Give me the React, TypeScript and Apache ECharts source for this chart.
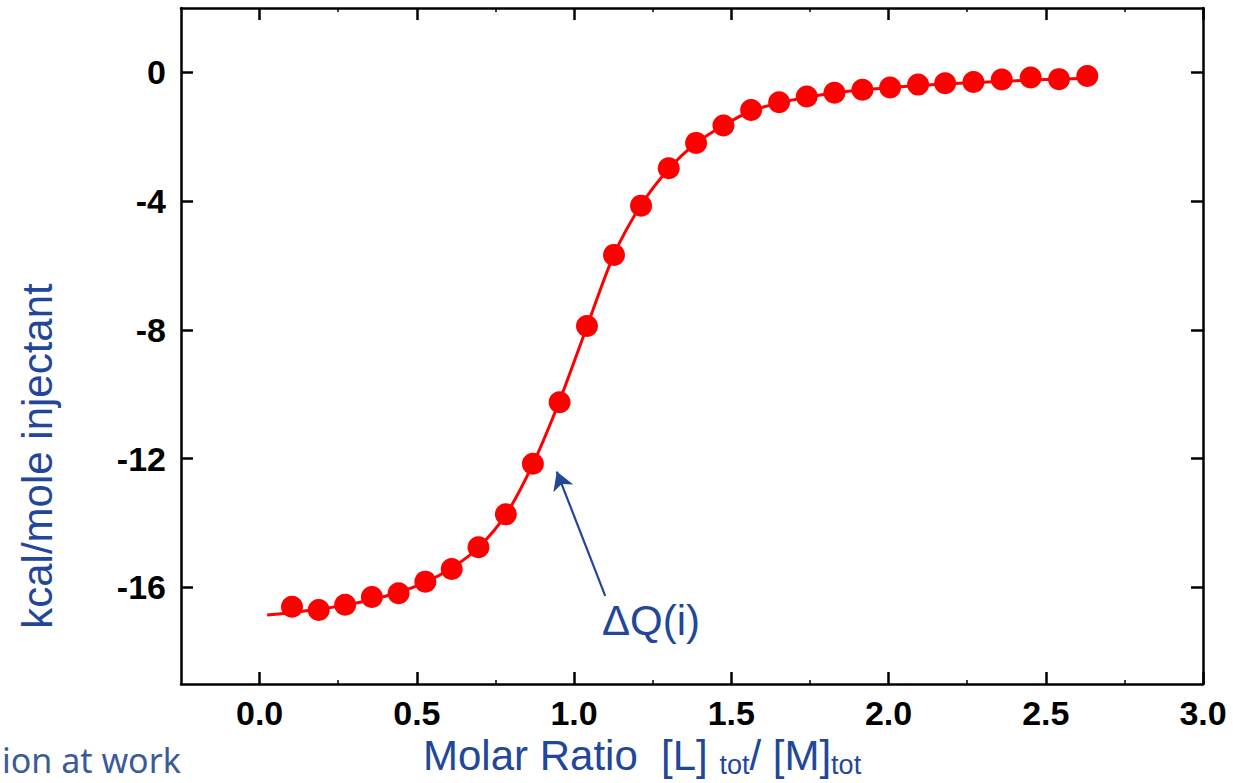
import React, { useEffect, useRef } from "react";
import * as echarts from "echarts";

// Measured injection points: molar ratio vs heat per mole of injectant
const ratioX = [0.103, 0.188, 0.272, 0.357, 0.442, 0.527, 0.611, 0.696, 0.783, 0.869, 0.954, 1.041, 1.127, 1.213, 1.301, 1.388, 1.475, 1.563, 1.652, 1.74, 1.828, 1.917, 2.005, 2.094, 2.18, 2.27, 2.36, 2.452, 2.542, 2.632];
const heatY = [-16.6, -16.7, -16.54, -16.3, -16.18, -15.82, -15.43, -14.75, -13.73, -12.16, -10.25, -7.88, -5.67, -4.14, -2.98, -2.19, -1.65, -1.17, -0.93, -0.75, -0.63, -0.54, -0.47, -0.38, -0.34, -0.3, -0.22, -0.16, -0.21, -0.11];

// Fitted curve
const fitX = [0.024, 0.103, 0.188, 0.272, 0.357, 0.442, 0.527, 0.611, 0.696, 0.783, 0.869, 0.954, 1.041, 1.127, 1.213, 1.301, 1.388, 1.475, 1.563, 1.652, 1.74, 1.828, 1.917, 2.005, 2.094, 2.18, 2.27, 2.36, 2.452, 2.542, 2.632];
const fitY = [-16.86, -16.78, -16.68, -16.55, -16.38, -16.15, -15.84, -15.4, -14.76, -13.74, -12.17, -10.2, -7.9, -5.66, -4.12, -3.0, -2.2, -1.65, -1.2, -0.95, -0.77, -0.64, -0.54, -0.47, -0.41, -0.36, -0.32, -0.28, -0.24, -0.21, -0.18];

// Tick labels
const xTicks = [0, 0.5, 1.0, 1.5, 2.0, 2.5, 3.0];
const xMinorTicks = [0.25, 0.75, 1.25, 1.75, 2.25, 2.75];
const yTicks = [-16, -12, -8, -4, 0];

// Annotation arrow (data coordinates): tail -> head
const arrowTail = [1.099, -16.26];
const arrowHead = [0.945, -12.4];

const BLUE = "#22479a";
const FONT = "'Liberation Sans', Arial, Helvetica, sans-serif";

export default function App() {
  const ref = useRef<HTMLDivElement>(null);

  useEffect(() => {
    if (!ref.current) return;
    const chart = echarts.init(ref.current, null, { renderer: "svg" });

    const axisLine = { show: true, onZero: false, lineStyle: { color: "#000", width: 2.5 } };
    const noLine = { show: false, onZero: false };
    const xMin = -0.25;
    const xMax = 3.0;
    const yMin = -19;
    const yMax = 2;

    const labelStyle = {
      color: "#000",
      fontFamily: FONT,
      fontWeight: "bold" as const,
      fontSize: 34,
    };

    const majorTick = (vals: number[]) => ({
      show: true,
      inside: true,
      length: 12,
      customValues: vals,
      lineStyle: { color: "#000", width: 2.5 },
    });
    const minorTick = (vals: number[]) => ({
      show: true,
      inside: true,
      length: 4,
      customValues: vals,
      lineStyle: { color: "#000", width: 1.5 },
    });

    chart.setOption({
      animation: false,
      backgroundColor: "#fff",
      grid: { left: 181, right: 30, top: 8, bottom: 99, containLabel: false },
      xAxis: [
        {
          type: "value",
          position: "bottom",
          min: xMin,
          max: xMax,
          axisLine,
          splitLine: { show: false },
          axisTick: majorTick(xTicks),
          axisLabel: {
            ...labelStyle,
            margin: 12,
            lineHeight: 34,
            customValues: xTicks,
            formatter: (v: number) => v.toFixed(1),
          },
        },
        {
          type: "value",
          position: "top",
          min: xMin,
          max: xMax,
          axisLine,
          splitLine: { show: false },
          axisTick: majorTick(xTicks),
          axisLabel: { show: false },
        },
        {
          type: "value",
          position: "bottom",
          min: xMin,
          max: xMax,
          axisLine: noLine,
          splitLine: { show: false },
          axisTick: minorTick(xMinorTicks),
          axisLabel: { show: false },
        },
        {
          type: "value",
          position: "top",
          min: xMin,
          max: xMax,
          axisLine: noLine,
          splitLine: { show: false },
          axisTick: minorTick(xMinorTicks),
          axisLabel: { show: false },
        },
      ],
      yAxis: [
        {
          type: "value",
          position: "left",
          min: yMin,
          max: yMax,
          axisLine,
          splitLine: { show: false },
          axisTick: majorTick(yTicks),
          axisLabel: {
            ...labelStyle,
            margin: 15,
            customValues: yTicks,
            formatter: (v: number) => String(v),
          },
        },
        {
          type: "value",
          position: "right",
          min: yMin,
          max: yMax,
          axisLine,
          splitLine: { show: false },
          axisTick: majorTick(yTicks),
          axisLabel: { show: false },
        },
      ],
      series: [
        {
          type: "line",
          name: "fit",
          xAxisIndex: 0,
          yAxisIndex: 0,
          data: fitX.map((x, i) => [x, fitY[i]]),
          smooth: 0.3,
          showSymbol: false,
          symbol: "none",
          lineStyle: { color: "#ff0000", width: 3 },
          z: 2,
          silent: true,
        },
        {
          type: "scatter",
          name: "data",
          xAxisIndex: 0,
          yAxisIndex: 0,
          data: ratioX.map((x, i) => [x, heatY[i]]),
          symbol: "circle",
          symbolSize: 22,
          itemStyle: { color: "#ff0000", opacity: 1 },
          z: 3,
          silent: true,
          markLine: {
            silent: true,
            animation: false,
            symbol: ["none", "arrow"],
            symbolSize: [16, 18],
            label: { show: false },
            lineStyle: { color: BLUE, width: 2.2, type: "solid", opacity: 1 },
            data: [
              [
                { coord: arrowTail, symbol: "none" },
                { coord: arrowHead, symbol: "arrow" },
              ],
            ],
          },
        },
      ],
      graphic: [
        {
          type: "text",
          x: 37,
          y: 456,
          rotation: Math.PI / 2,
          style: {
            text: "kcal/mole injectant",
            fontFamily: FONT,
            fontSize: 42,
            fill: BLUE,
            align: "center",
            verticalAlign: "middle",
          },
        },
        {
          type: "text",
          x: 423,
          y: 732,
          style: {
            text: "{a|Molar Ratio  [L] }{s|tot}{a|/ [M]}{s|tot}",
            fontFamily: FONT,
            fill: BLUE,
            align: "left",
            verticalAlign: "top",
            rich: {
              a: { fontSize: 42, fontFamily: FONT, fill: BLUE, lineHeight: 46 },
              s: { fontSize: 27, fontFamily: FONT, fill: BLUE, lineHeight: 24, verticalAlign: "bottom" },
            },
          },
        },
        {
          type: "text",
          x: 602,
          y: 620,
          style: {
            text: "ΔQ(i)",
            fontFamily: FONT,
            fontSize: 42,
            fill: BLUE,
            align: "left",
            verticalAlign: "middle",
          },
        },
        {
          type: "text",
          x: 2,
          y: 760,
          style: {
            text: "ion at work",
            fontFamily: "'Noto Sans', sans-serif",
            fontSize: 34,
            lineHeight: 36,
            fill: "#3a5b98",
            align: "left",
            verticalAlign: "middle",
          },
        },
      ],
    });

    return () => chart.dispose();
  }, []);

  return (
    <div
      ref={ref}
      style={{ position: "fixed", left: 0, top: 0, width: "1233px", height: "783px", background: "#fff" }}
    />
  );
}
